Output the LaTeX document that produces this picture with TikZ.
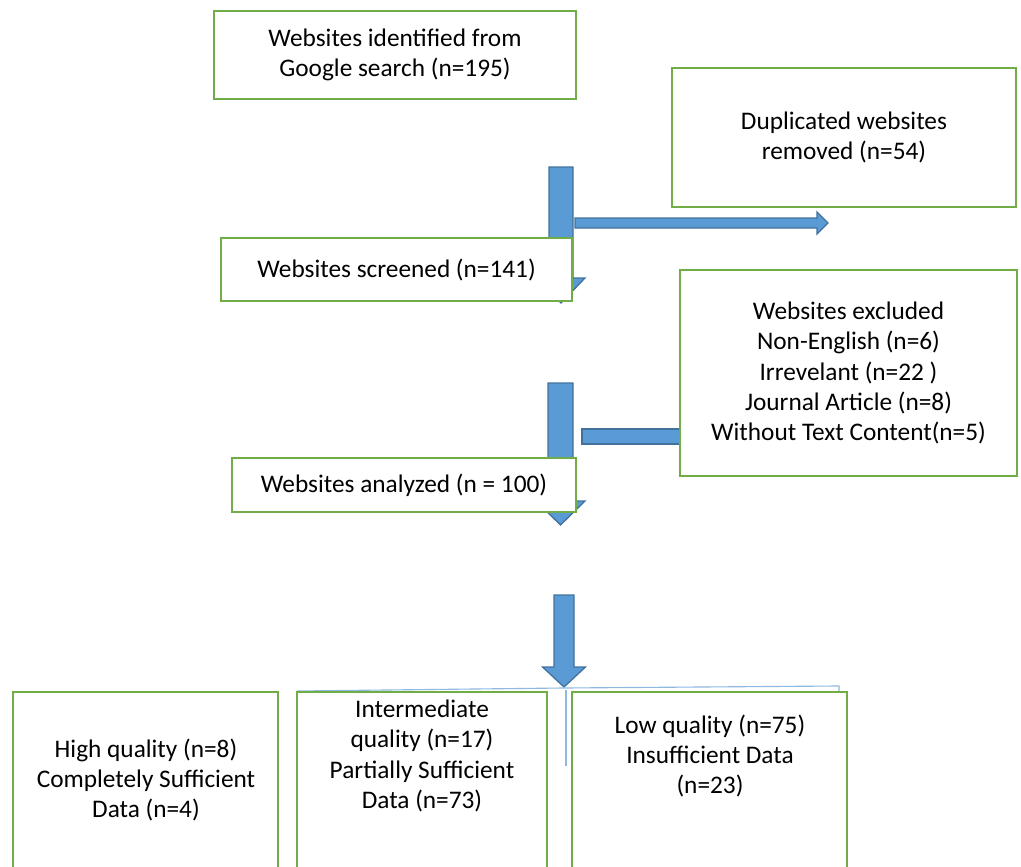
\documentclass[tikz,border=0pt]{standalone}
\usepackage{fontspec}
\setmainfont{Carlito}
\definecolor{boxgreen}{HTML}{70AD47}
\definecolor{arrowblue}{HTML}{5B9BD5}
\definecolor{arrowedge}{HTML}{41719C}
\definecolor{thinblue}{HTML}{8FB8E2}
\tikzset{
	box/.style={draw=boxgreen, fill=white, line width=1.3pt, inner sep=0pt, align=center, font=\fontsize{18}{21.5}\selectfont},
	boxtext/.style={inner sep=0pt, align=center, font=\fontsize{18}{21.5}\selectfont},
	blockarrow/.style={fill=arrowblue, draw=arrowedge, line width=0.9pt},
	thinline/.style={draw=thinblue, line width=0.8pt}
}
% x centre, top, head base, tip, shaft half width, head half width
\def\blockdown(#1:#2:#3:#4:#5:#6){\draw[blockarrow] (#1-#5,#2) -- (#1+#5,#2) -- (#1+#5,#3) -- (#1+#6,#3) -- (#1,#4) -- (#1-#6,#3) -- (#1-#5,#3) -- cycle;}

\begin{document}
\begin{tikzpicture}[x=0.025cm, y=-0.025cm]
			\useasboundingbox (0,0) rectangle (1021,867);
			\clip (0,0) rectangle (1021,867);
			
			%%%%% ARROWS %%%%%
			
			\blockdown(561:167:278:303:12:24)
			\draw[blockarrow] (575,218) -- (817,218) -- (817,212) -- (828,223) -- (817,234) -- (817,228) -- (575,228) -- cycle;
			
			\blockdown(560.5:383:501:525:12.5:24.5)
			\draw[blockarrow] (582,429) rectangle (700,444);
			
			\blockdown(564:595:667:687:10:21.5)
			
			\draw[thinline] (297,691) -- (564,688) -- (839,686) -- (839,691);
			\draw[thinline] (566,690) -- (566,766);
			
			%%%%% BOXES %%%%%
			
			\node[box, minimum width=9.05cm, minimum height=2.2cm] (found) at (395,55) {Websites identified from\\Google search (n=195)};
			\node[box, minimum width=8.6cm, minimum height=3.475cm] (dupl) at (844,137.5) {Duplicated websites\\removed (n=54)};
			
			\node[box, minimum width=8.775cm, minimum height=1.575cm] (screened) at (396.5,269.5) {Websites screened (n=141)};
			\node[box, minimum width=8.425cm, minimum height=5.15cm] (excl) at (848.5,373) {Websites excluded\\Non-English (n=6)\\Irrevelant (n=22 )\\Journal Article (n=8)\\Without Text Content(n=5)};
			
			\node[box, minimum width=8.6cm, minimum height=1.35cm] (analyzed) at (404,485) {Websites analyzed (n = 100)};
			
			\node[box, minimum width=6.625cm, minimum height=4.5cm] (highBox) at (145.5,782) {};
			\node[box, minimum width=6.25cm, minimum height=4.5cm] (midBox) at (422,782) {};
			\node[box, minimum width=6.875cm, minimum height=4.5cm] (lowBox) at (709.5,782) {};
			
			\node[boxtext] (high) at (146,780) {High quality (n=8)\\Completely Sufficient\\Data (n=4)};
			\node[boxtext] (mid) at (422,756) {Intermediate\\quality (n=17)\\Partially Sufficient\\Data (n=73)};
			\node[boxtext] (low) at (710,756) {Low quality (n=75)\\Insufficient Data\\(n=23)};
			
\end{tikzpicture}
\end{document}
